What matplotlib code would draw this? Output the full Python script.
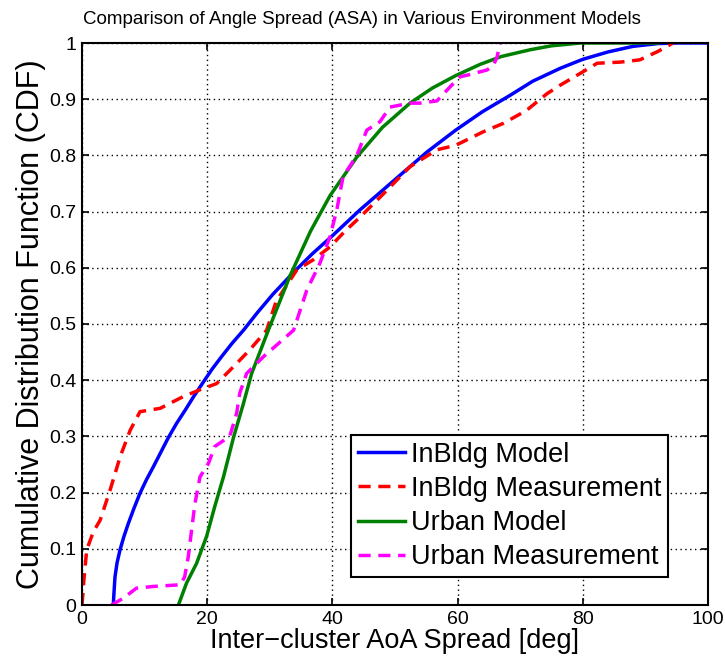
import matplotlib
matplotlib.use('Agg')
import matplotlib.pyplot as plt

plt.rcParams['font.family'] = ['Liberation Sans', 'DejaVu Sans']

# InBldg model (smooth CDF)
inbldg_model_x = [5.0, 5.1, 5.27, 5.6, 6.07, 6.7, 7.4, 8.3, 9.27, 10.3, 11.4, 12.6, 13.8, 15.1, 16.5,
                  17.9, 19.4, 20.8, 22.3, 24, 25.8, 28, 30.5, 33.8, 36.8, 39.9, 44.4, 50, 55.1, 59.7,
                  64, 68.4, 72, 76.4, 80, 84, 88, 92, 95, 100]
inbldg_model_y = [0, 0.02, 0.05, 0.075, 0.098, 0.122, 0.145, 0.172, 0.199, 0.223, 0.246, 0.272, 0.298, 0.323, 0.347,
                  0.372, 0.397, 0.42, 0.442, 0.466, 0.489, 0.52, 0.553, 0.592, 0.625, 0.656, 0.703, 0.757, 0.806, 0.845,
                  0.878, 0.907, 0.932, 0.955, 0.971, 0.984, 0.994, 0.999, 1.0, 1.0]

# InBldg measurement
inbldg_meas_x = [0, 0.3, 0.75, 1.8, 2.9, 4.5, 6.1, 7.7, 9.27, 12.5, 16.2, 18.85, 21.5, 24.2, 26.8,
                 29.5, 31, 34.3, 36.9, 39.6, 42, 44.4, 48, 52.4, 56.7, 59.7, 64.1, 67.3, 71, 74.3,
                 76.4, 79.6, 82.3, 86, 89.1, 92, 94.4]
inbldg_meas_y = [0, 0.044, 0.098, 0.13, 0.151, 0.205, 0.264, 0.311, 0.344, 0.35, 0.371, 0.383, 0.394, 0.424,
                 0.454, 0.489, 0.54, 0.596, 0.614, 0.637, 0.665, 0.69, 0.73, 0.78, 0.81, 0.818,
                 0.842, 0.857, 0.88, 0.91, 0.925, 0.946, 0.964, 0.966, 0.97, 0.985, 1.0]

# Urban model (smooth CDF)
urban_model_x = [15.4, 16.7, 18.3, 19.9, 21.2, 22.6, 24.2, 25.8, 27.1, 29.8, 33.2, 36.5, 39.6, 43.9,
                 48, 52.4, 56, 59.7, 63.6, 67, 71.6, 75, 79.6, 92]
urban_model_y = [0, 0.039, 0.074, 0.122, 0.175, 0.228, 0.298, 0.359, 0.412, 0.49, 0.585, 0.665, 0.728, 0.797,
                 0.85, 0.893, 0.92, 0.942, 0.962, 0.976, 0.988, 0.995, 1.0, 1.0]

# Urban measurement
urban_meas_x = [4.7, 6.6, 8.7, 11.4, 15.7, 16.4, 16.98, 17.5, 18.05, 18.85, 20.2, 21.2, 23.6, 24.7,
                25.2, 26.3, 29, 33.8, 35.9, 38, 39.6, 40.7, 41.7, 43.9, 45.5, 47.6, 49.2, 52.4, 54,
                56.7, 58.8, 60.4, 62, 64.7, 65.7, 66.3, 66.8]
urban_meas_y = [0, 0.012, 0.03, 0.033, 0.036, 0.05, 0.086, 0.133, 0.181, 0.228, 0.252, 0.282, 0.30, 0.341,
                0.377, 0.412, 0.442, 0.489, 0.56, 0.608, 0.655, 0.703, 0.762, 0.80, 0.845, 0.86, 0.886, 0.893, 0.893,
                0.897, 0.922, 0.94, 0.944, 0.952, 0.96, 0.975, 1.0]

xticks = [0, 20, 40, 60, 80, 100]
yticks = [0, 0.1, 0.2, 0.3, 0.4, 0.5, 0.6, 0.7, 0.8, 0.9, 1]
yticklabels = ['0', '0.1', '0.2', '0.3', '0.4', '0.5', '0.6', '0.7', '0.8', '0.9', '1']

fig = plt.figure(figsize=(7.25, 6.64), dpi=100)
ax = fig.add_axes([82 / 725, 59 / 664, 626 / 725, 562 / 664])

lw = 2.5
ax.plot(inbldg_model_x, inbldg_model_y, color='#0000ff', lw=lw, label='InBldg Model')
ax.plot(inbldg_meas_x, inbldg_meas_y, color='#ff0000', lw=lw, dashes=(3.5, 2.2), label='InBldg Measurement')
ax.plot(urban_model_x, urban_model_y, color='#008000', lw=lw, label='Urban Model')
ax.plot(urban_meas_x, urban_meas_y, color='#ff00ff', lw=lw, dashes=(3.5, 2.2), label='Urban Measurement')

ax.set_xlim(0, 100)
ax.set_ylim(0, 1)
ax.set_xticks(xticks)
ax.set_yticks(yticks)
ax.set_yticklabels(yticklabels)
ax.tick_params(direction='in', top=True, right=True, labelsize=14, length=5, width=1.2, pad=4)
ax.grid(True, color='black', linestyle=(0, (1, 2.5)), linewidth=1.0)
for s in ax.spines.values():
    s.set_linewidth(1.5)

# title sits a bit left of the axes centre in the original
fig.text(362 / 725, 1 - 19 / 664, 'Comparison of Angle Spread (ASA) in Various Environment Models',
         fontsize=13.5, ha='center', va='center')
ax.set_xlabel('Inter\u2212cluster AoA Spread [deg]', fontsize=19.5, labelpad=0)
ax.set_ylabel('Cumulative Distribution Function (CDF)', fontsize=22, labelpad=2)

leg = ax.legend(loc='lower right', bbox_to_anchor=(0.936, 0.05), fontsize=19.5, frameon=True,
                fancybox=False, edgecolor='black', framealpha=1, handlelength=1.75,
                handletextpad=0.2, labelspacing=0.3, borderpad=0.25, borderaxespad=0)
leg.get_frame().set_linewidth(1.5)

fig.savefig('out.png', dpi=100)
